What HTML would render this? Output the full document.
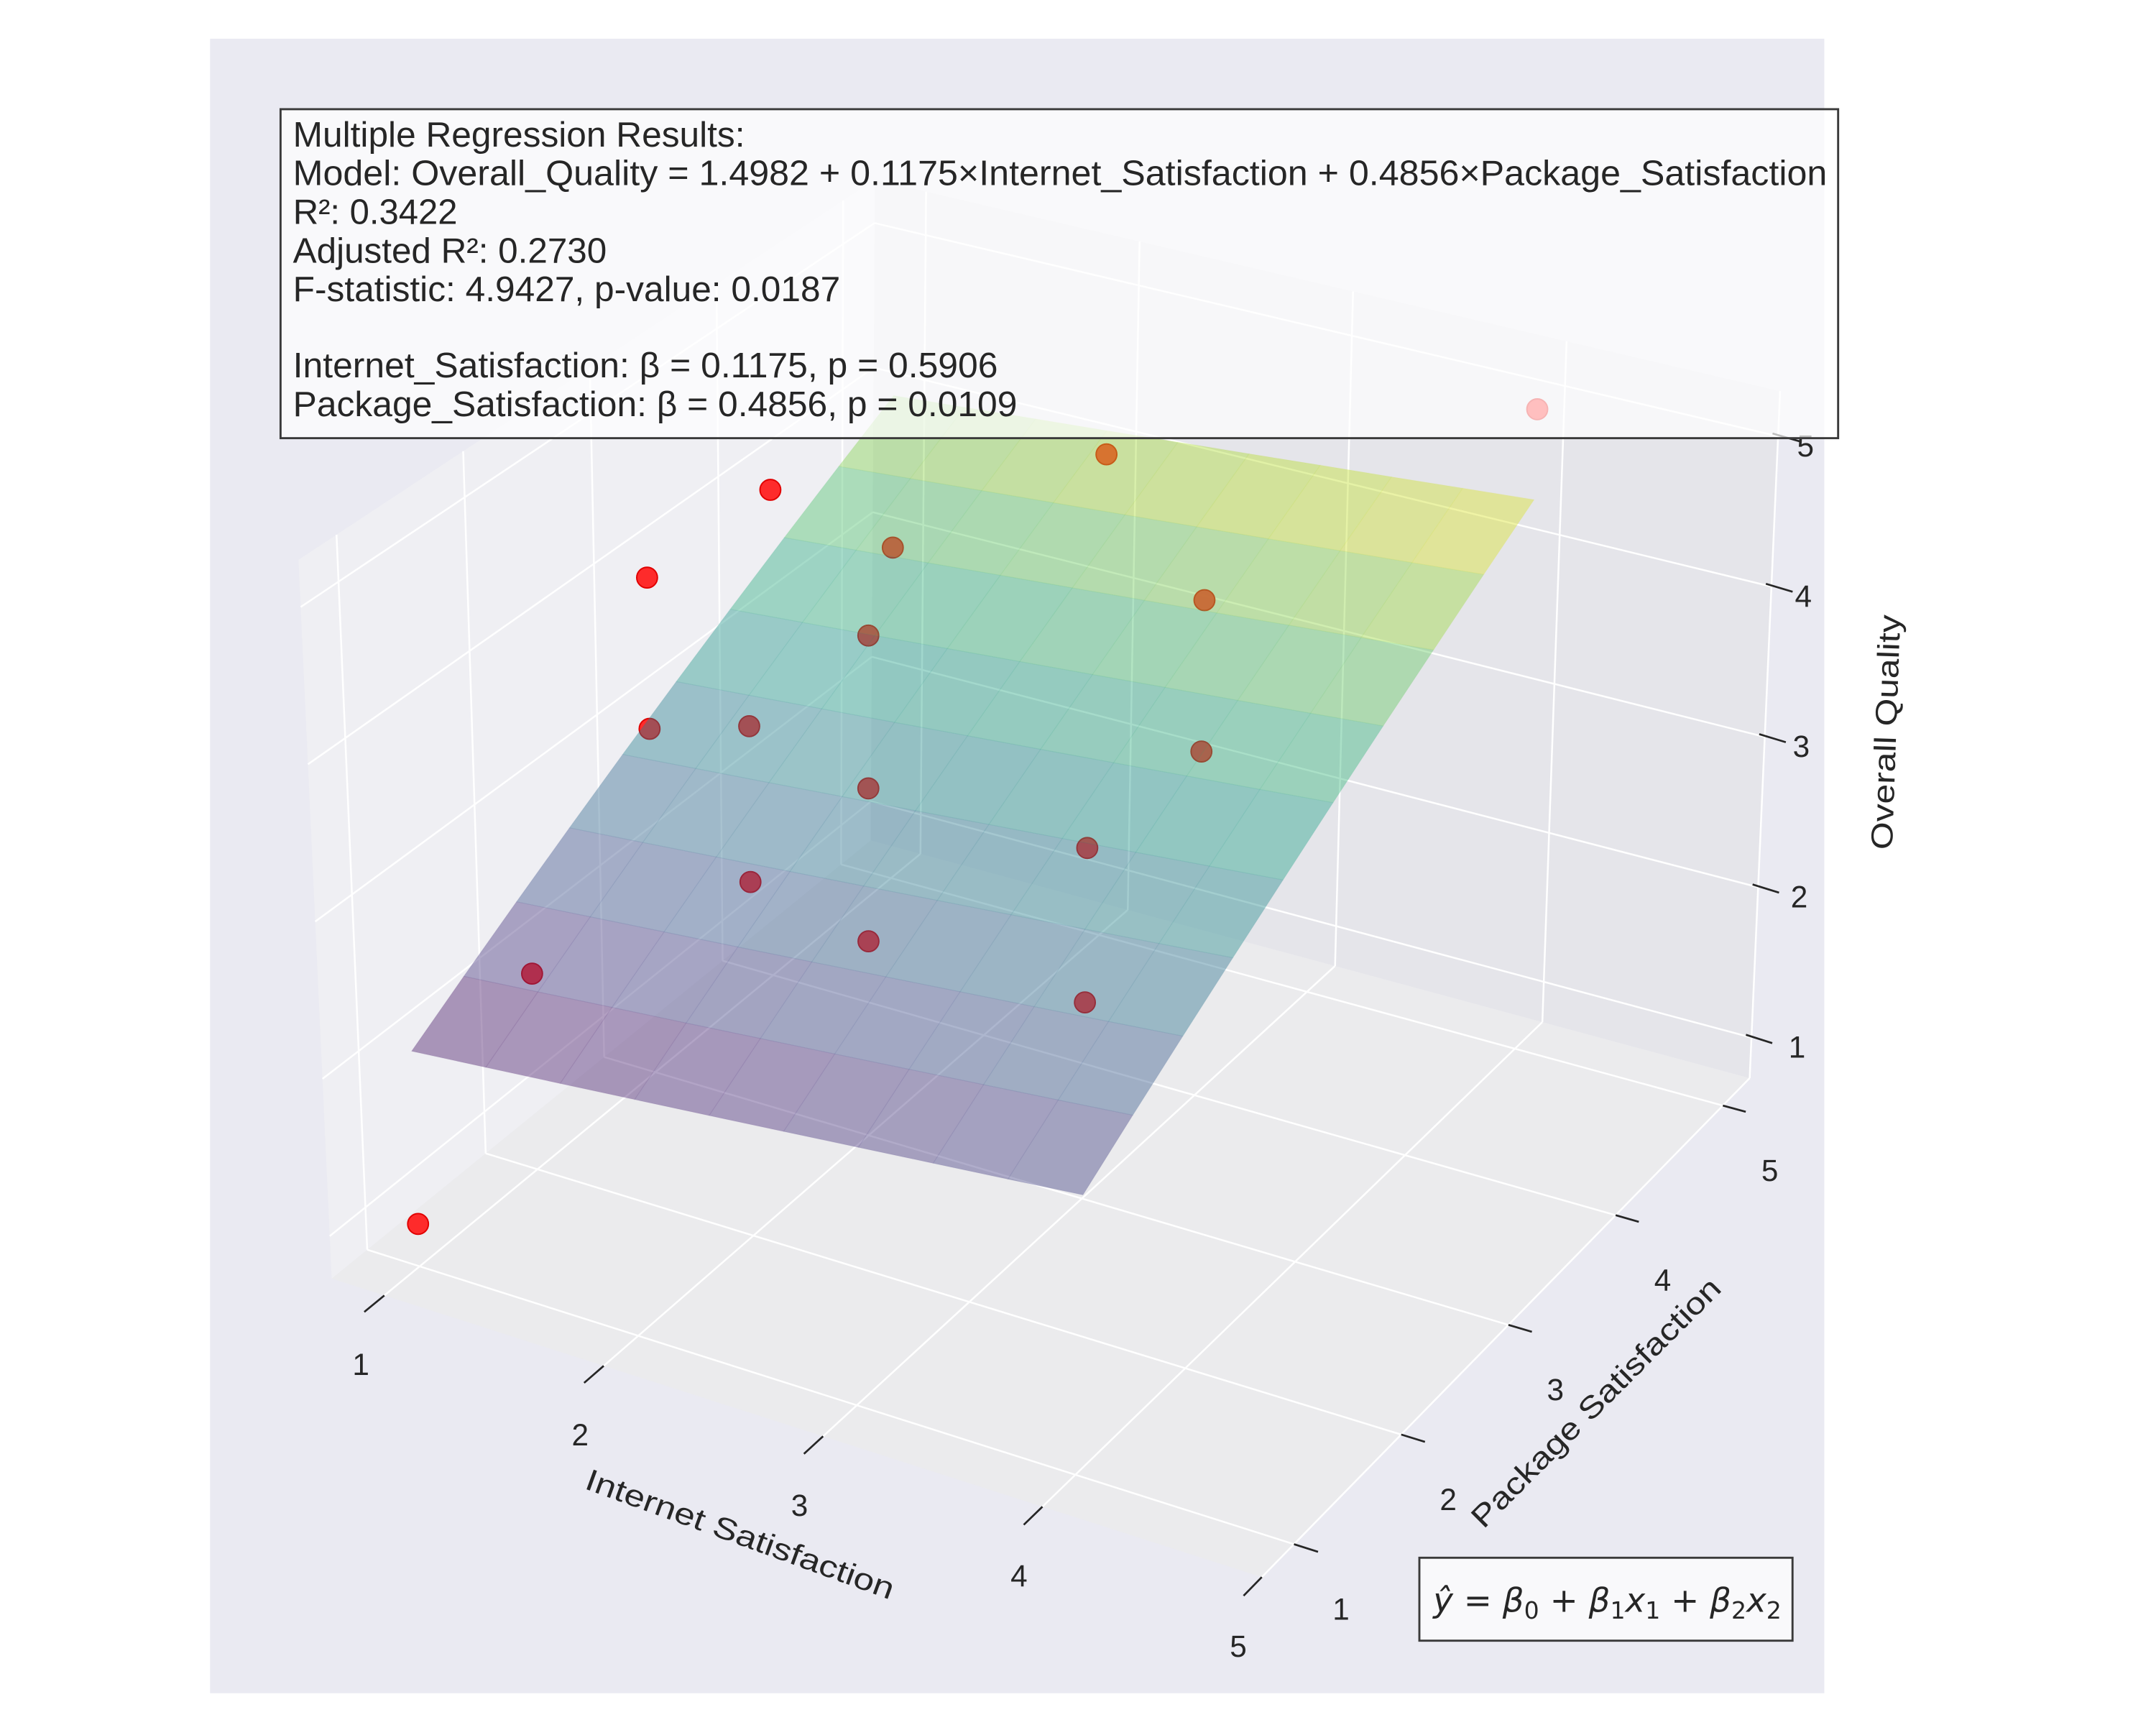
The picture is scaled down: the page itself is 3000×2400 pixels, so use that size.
<!DOCTYPE html>
<html><head><meta charset="utf-8"><style>
html,body{margin:0;padding:0;background:#fff;}
svg{display:block;}
text{font-family:"Liberation Sans",Arial,sans-serif;fill:#262626;}
</style></head><body>
<svg id="chart" width="3000" height="2400" viewBox="0 0 1560 1248" xmlns="http://www.w3.org/2000/svg">
<rect x="0" y="0" width="1560" height="1248" fill="#ffffff"/>
<rect x="152" y="28" width="1168" height="1197" fill="#eaeaf2"/>
<g id="panes"></g>
<g id="grid"></g>
<g id="ticks"></g>
<g id="points"></g>
<g id="surface"></g>
<text x="0" y="0" font-size="22" text-anchor="middle" textLength="236" lengthAdjust="spacingAndGlyphs" transform="translate(533,1117) rotate(20)">Internet Satisfaction</text>
<text x="0" y="0" font-size="22" text-anchor="middle" textLength="245" lengthAdjust="spacingAndGlyphs" transform="translate(1160,1020) rotate(-45)">Package Satisfaction</text>
<text x="0" y="0" font-size="22" text-anchor="middle" textLength="170" lengthAdjust="spacingAndGlyphs" transform="translate(1372,530) rotate(-88)">Overall Quality</text>
<g>
<rect x="203" y="79" width="1127" height="238" fill="rgba(255,255,255,0.7)" stroke="#3a3a3a" stroke-width="1.5"/>
<text x="212" y="106" font-size="25.5" textLength="327" lengthAdjust="spacingAndGlyphs">Multiple Regression Results:</text>
<text x="212" y="134" font-size="25.5" textLength="1110" lengthAdjust="spacingAndGlyphs">Model: Overall_Quality = 1.4982 + 0.1175×Internet_Satisfaction + 0.4856×Package_Satisfaction</text>
<text x="212" y="162" font-size="25.5" textLength="119" lengthAdjust="spacingAndGlyphs">R²: 0.3422</text>
<text x="212" y="190" font-size="25.5" textLength="227" lengthAdjust="spacingAndGlyphs">Adjusted R²: 0.2730</text>
<text x="212" y="218" font-size="25.5" textLength="396" lengthAdjust="spacingAndGlyphs">F-statistic: 4.9427, p-value: 0.0187</text>
<text x="212" y="273" font-size="25.5" textLength="510" lengthAdjust="spacingAndGlyphs">Internet_Satisfaction: β = 0.1175, p = 0.5906</text>
<text x="212" y="301" font-size="25.5" textLength="524" lengthAdjust="spacingAndGlyphs">Package_Satisfaction: β = 0.4856, p = 0.0109</text>
</g>
<g>
<rect x="1027" y="1127" width="270" height="60" fill="rgba(255,255,255,0.7)" stroke="#3a3a3a" stroke-width="1.5"/>
<text x="1037" y="1166" font-size="24" textLength="252" lengthAdjust="spacingAndGlyphs" style="font-family:'DejaVu Sans',sans-serif"><tspan font-style="italic">ŷ</tspan> = <tspan font-style="italic">β</tspan><tspan font-size="17" dy="5">0</tspan><tspan dy="-5"> + </tspan><tspan font-style="italic">β</tspan><tspan font-size="17" dy="5">1</tspan><tspan font-style="italic" dy="-5">x</tspan><tspan font-size="17" dy="5">1</tspan><tspan dy="-5"> + </tspan><tspan font-style="italic">β</tspan><tspan font-size="17" dy="5">2</tspan><tspan font-style="italic" dy="-5">x</tspan><tspan font-size="17" dy="5">2</tspan></text>
</g>
</svg>
<script>
// ---- data ----
const internetSat = [1, 1, 1, 1, 2, 2, 1, 2, 2, 2, 1, 3, 3, 2, 3, 3, 4];
const packageSat  = [1, 2, 3, 3, 2, 2, 4, 3, 3, 3, 5, 3, 3, 5, 4, 4, 5];
const overallQual = [1, 2, 4, 3, 4, 3, 4, 4, 3, 2, 3, 3, 2, 4, 3, 4, 5];
const coefIntercept = 1.4982;
const coefInternet = 0.1175;
const coefPackage = 0.4856;
const xTicks = [1, 2, 3, 4, 5];
const yTicks = [1, 2, 3, 4, 5];
const zTicks = [1, 2, 3, 4, 5];
const planeX = [1, 4];
const planeY = [1, 5];

// ---- projection (3D box -> screen) ----
const XL = [0.76, 5.0], YL = [0.7, 5.25], ZL = [0.73, 5.3];
const C = {
  b00:[240,925], b10:[913,1141], b01:[630,608], b11:[1266,780],
  t00:[216,405], t10:[939,595], t01:[633,130], t11:[1288,283]
};
function bil(a,b,c,d,u,v){
  return [a[0]*(1-u)*(1-v)+b[0]*u*(1-v)+c[0]*(1-u)*v+d[0]*u*v,
          a[1]*(1-u)*(1-v)+b[1]*u*(1-v)+c[1]*(1-u)*v+d[1]*u*v];
}
function P(x,y,z){
  const u=(x-XL[0])/(XL[1]-XL[0]), v=(y-YL[0])/(YL[1]-YL[0]), w=(z-ZL[0])/(ZL[1]-ZL[0]);
  const f=bil(C.b00,C.b10,C.b01,C.b11,u,v), t=bil(C.t00,C.t10,C.t01,C.t11,u,v);
  return [f[0]+(t[0]-f[0])*w, f[1]+(t[1]-f[1])*w];
}
const NS='http://www.w3.org/2000/svg';
function mk(tag,attrs,parent){const el=document.createElementNS(NS,tag);for(const k in attrs)el.setAttribute(k,attrs[k]);parent.appendChild(el);return el;}
function poly(pts){return pts.map(p=>p[0].toFixed(1)+','+p[1].toFixed(1)).join(' ');}

// panes
const panes=document.getElementById('panes');
let e;
e=mk('polygon',{points:poly([P(XL[0],YL[0],ZL[0]),P(XL[1],YL[0],ZL[0]),P(XL[1],YL[1],ZL[0]),P(XL[0],YL[1],ZL[0])]),fill:'#ebebed'},panes);


e=mk('polygon',{points:poly([P(XL[0],YL[0],ZL[0]),P(XL[0],YL[1],ZL[0]),P(XL[0],YL[1],ZL[1]),P(XL[0],YL[0],ZL[1])]),fill:'#efeff3'},panes);


e=mk('polygon',{points:poly([P(XL[0],YL[1],ZL[0]),P(XL[1],YL[1],ZL[0]),P(XL[1],YL[1],ZL[1]),P(XL[0],YL[1],ZL[1])]),fill:'#e5e5ea'},panes);



// gridlines
const grid=document.getElementById('grid');
function gl(a,b,name){const l=mk('line',{x1:a[0],y1:a[1],x2:b[0],y2:b[1],stroke:'#ffffff','stroke-width':1.3},grid);

}
xTicks.forEach(x=>{gl(P(x,YL[0],ZL[0]),P(x,YL[1],ZL[0]),'floor-gridline-x');gl(P(x,YL[1],ZL[0]),P(x,YL[1],ZL[1]),'backwall-gridline-x');});
yTicks.forEach(y=>{gl(P(XL[0],y,ZL[0]),P(XL[1],y,ZL[0]),'floor-gridline-y');gl(P(XL[0],y,ZL[0]),P(XL[0],y,ZL[1]),'leftwall-gridline-y');});
zTicks.forEach(z=>{gl(P(XL[0],YL[0],z),P(XL[0],YL[1],z),'leftwall-gridline-z');gl(P(XL[0],YL[1],z),P(XL[1],YL[1],z),'backwall-gridline-z');});

// ticks + labels
const ticks=document.getElementById('ticks');
function tk(a,b){const l=mk('line',{x1:a[0],y1:a[1],x2:b[0],y2:b[1],stroke:'#262626','stroke-width':1.4},ticks);

}
function lbl(p,s,name){const t=mk('text',{x:p[0].toFixed(1),y:p[1].toFixed(1),'font-size':22,'text-anchor':'middle','dominant-baseline':'central'},ticks);t.textContent=s;

}
xTicks.forEach(x=>{const a=P(x,YL[0],ZL[0]);tk(a,P(x,YL[0]-0.17,ZL[0]));lbl([a[0]-17,a[1]+50],String(x),'x-tick-label');});
yTicks.forEach(y=>{const a=P(XL[1],y,ZL[0]);tk(a,P(XL[1]+0.11,y,ZL[0]));lbl([a[0]+34,a[1]+47],String(y),'y-tick-label');});
zTicks.forEach(z=>{const a=P(XL[1],YL[1],z);tk([a[0]-4,a[1]-2],P(XL[1]+0.1,YL[1],z));lbl([a[0]+33-3.3*(z-1),a[1]+7],String(z),'z-tick-label');});

// scatter points
const pts=document.getElementById('points');
for(let i=0;i<internetSat.length;i++){
  const p=P(internetSat[i],packageSat[i],overallQual[i]);
  const c=mk('circle',{cx:p[0].toFixed(1),cy:p[1].toFixed(1),r:7.5,fill:'#ff1a1a','fill-opacity':0.92,stroke:'#e00000','stroke-width':1},pts);
  
  
}

// regression plane
function viridis(t){
  const s=[[68,1,84],[72,40,120],[62,74,137],[49,104,142],[38,130,142],[31,158,137],[53,183,121],[109,205,89],[180,222,44],[253,231,37]];
  t=Math.max(0,Math.min(1,t))*(s.length-1);const i=Math.min(s.length-2,Math.floor(t)),f=t-i;
  return 'rgb('+s[i].map((v,k)=>Math.round(v+(s[i+1][k]-v)*f)).join(',')+')';
}
const surf=document.getElementById('surface');
const N=10;
const zf=(x,y)=>coefIntercept+coefInternet*x+coefPackage*y;
const zmin=zf(planeX[0],planeY[0]), zmax=zf(planeX[1],planeY[1]);
for(let i=0;i<N-1;i++){for(let j=0;j<N-1;j++){
  const x0=planeX[0]+(planeX[1]-planeX[0])*i/(N-1), x1=planeX[0]+(planeX[1]-planeX[0])*(i+1)/(N-1);
  const y0=planeY[0]+(planeY[1]-planeY[0])*j/(N-1), y1=planeY[0]+(planeY[1]-planeY[0])*(j+1)/(N-1);
  const zc=(zf(x0,y0)+zf(x1,y0)+zf(x0,y1)+zf(x1,y1))/4;
  const col=viridis((zc-zmin)/(zmax-zmin));
  const q=mk('polygon',{points:poly([P(x0,y0,zf(x0,y0)),P(x1,y0,zf(x1,y0)),P(x1,y1,zf(x1,y1)),P(x0,y1,zf(x0,y1))]),fill:col,'fill-opacity':0.42,stroke:col,'stroke-opacity':0.08,'stroke-width':0.6},surf);
  
  
}}
</script>
</body></html>
